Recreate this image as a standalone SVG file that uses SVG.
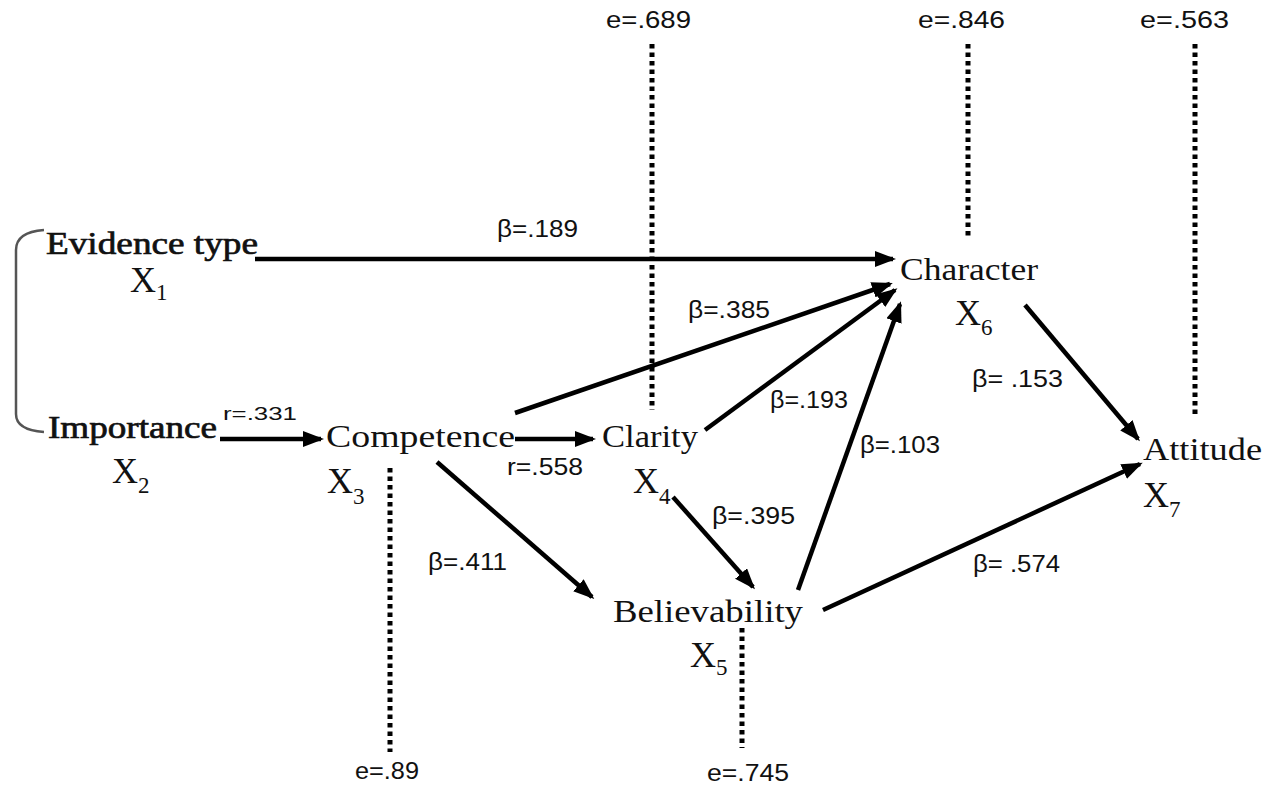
<svg xmlns="http://www.w3.org/2000/svg" width="1274" height="786" viewBox="0 0 1274 786">
<style>
.n{font-family:"Liberation Serif","Times New Roman",serif;font-size:32px;fill:#111}
.b{stroke:#111;stroke-width:0.7}
.x{font-family:"Liberation Serif","Times New Roman",serif;font-size:36px;fill:#111}
.s{font-size:23px}
.l{font-family:"Liberation Sans",Arial,sans-serif;font-size:24px;fill:#111}
.c line{stroke:#000;stroke-width:4.5}
.d{stroke:#000;stroke-width:5;stroke-dasharray:4.5 4;fill:none}
</style>
<defs>
<marker id="ah" markerUnits="userSpaceOnUse" markerWidth="22" markerHeight="18" refX="18" refY="8" orient="auto">
<path d="M0,0 L21,8 L0,16 z" fill="#000"/>
</marker>
</defs>
<rect width="1274" height="786" fill="#fff"/>
<path d="M44,230 Q16,232 16,250 L16,414 Q16,430 44,432" fill="none" stroke="#555" stroke-width="2.5"/>
<g id="dotted">
<line class="d" x1="652" y1="44" x2="652" y2="410"/>
<line class="d" x1="968" y1="44" x2="968" y2="236"/>
<line class="d" x1="1195" y1="44" x2="1195" y2="418"/>
<line class="d" x1="390" y1="468" x2="390" y2="752"/>
<line class="d" x1="742" y1="628" x2="742" y2="748"/>
</g>
<g class="c" id="connectors">
<line x1="255" y1="259" x2="893" y2="259" marker-end="url(#ah)"/>
<line x1="220" y1="439" x2="321" y2="439" marker-end="url(#ah)"/>
<line x1="515" y1="439" x2="593" y2="439" marker-end="url(#ah)"/>
<line x1="515" y1="413" x2="890" y2="284" marker-end="url(#ah)"/>
<line x1="705" y1="430" x2="895" y2="290" marker-end="url(#ah)"/>
<line x1="798" y1="590" x2="900" y2="304" marker-end="url(#ah)"/>
<line x1="673" y1="497" x2="753" y2="587" marker-end="url(#ah)"/>
<line x1="437" y1="462" x2="592" y2="597" marker-end="url(#ah)"/>
<line x1="1025" y1="305" x2="1138" y2="439" marker-end="url(#ah)"/>
<line x1="823" y1="610" x2="1140" y2="464" marker-end="url(#ah)"/>
</g>
<g id="evidence"><text class="n b" x="46" y="254" textLength="212" lengthAdjust="spacingAndGlyphs">Evidence type</text><text class="x" x="130" y="292">X<tspan class="s" dy="8">1</tspan></text></g>
<g id="importance"><text class="n b" x="48" y="438" textLength="169" lengthAdjust="spacingAndGlyphs">Importance</text><text class="x" x="112" y="483">X<tspan class="s" dy="10">2</tspan></text></g>
<g id="competence"><text class="n" x="326" y="447" textLength="189" lengthAdjust="spacingAndGlyphs">Competence</text><text class="x" x="327" y="493">X<tspan class="s" dy="11">3</tspan></text></g>
<g id="clarity"><text class="n" x="602" y="447" textLength="96" lengthAdjust="spacingAndGlyphs">Clarity</text><text class="x" x="633" y="493">X<tspan class="s" dy="11">4</tspan></text></g>
<g id="believability"><text class="n" x="613" y="622" textLength="190" lengthAdjust="spacingAndGlyphs">Believability</text><text class="x" x="690" y="667">X<tspan class="s" dy="8">5</tspan></text></g>
<g id="character"><text class="n" x="900" y="280" textLength="138" lengthAdjust="spacingAndGlyphs">Character</text><text class="x" x="955" y="325">X<tspan class="s" dy="10">6</tspan></text></g>
<g id="attitude"><text class="n" x="1143" y="460" textLength="119" lengthAdjust="spacingAndGlyphs">Attitude</text><text class="x" x="1143" y="507">X<tspan class="s" dy="10">7</tspan></text></g>
<g id="labels">
<text class="l" x="497" y="237" textLength="81" lengthAdjust="spacingAndGlyphs">β=.189</text>
<text class="l" x="688" y="318" textLength="82" lengthAdjust="spacingAndGlyphs">β=.385</text>
<text class="l" x="770" y="408" textLength="78" lengthAdjust="spacingAndGlyphs">β=.193</text>
<text class="l" x="860" y="453" textLength="80" lengthAdjust="spacingAndGlyphs">β=.103</text>
<text class="l" x="712" y="524" textLength="83" lengthAdjust="spacingAndGlyphs">β=.395</text>
<text class="l" x="428" y="570" textLength="79" lengthAdjust="spacingAndGlyphs">β=.411</text>
<text class="l" x="972" y="387" textLength="91" lengthAdjust="spacingAndGlyphs">β= .153</text>
<text class="l" x="973" y="572" textLength="87" lengthAdjust="spacingAndGlyphs">β= .574</text>
<text class="l" x="223" y="420" textLength="74" lengthAdjust="spacingAndGlyphs" style="font-size:18px">r=.331</text>
<text class="l" x="507" y="475" textLength="76" lengthAdjust="spacingAndGlyphs">r=.558</text>
<text class="l" x="606" y="28" textLength="85" lengthAdjust="spacingAndGlyphs">e=.689</text>
<text class="l" x="918" y="28" textLength="87" lengthAdjust="spacingAndGlyphs">e=.846</text>
<text class="l" x="1140" y="28" textLength="89" lengthAdjust="spacingAndGlyphs">e=.563</text>
<text class="l" x="355" y="779" textLength="64" lengthAdjust="spacingAndGlyphs">e=.89</text>
<text class="l" x="707" y="781" textLength="82" lengthAdjust="spacingAndGlyphs">e=.745</text>
</g>
</svg>
